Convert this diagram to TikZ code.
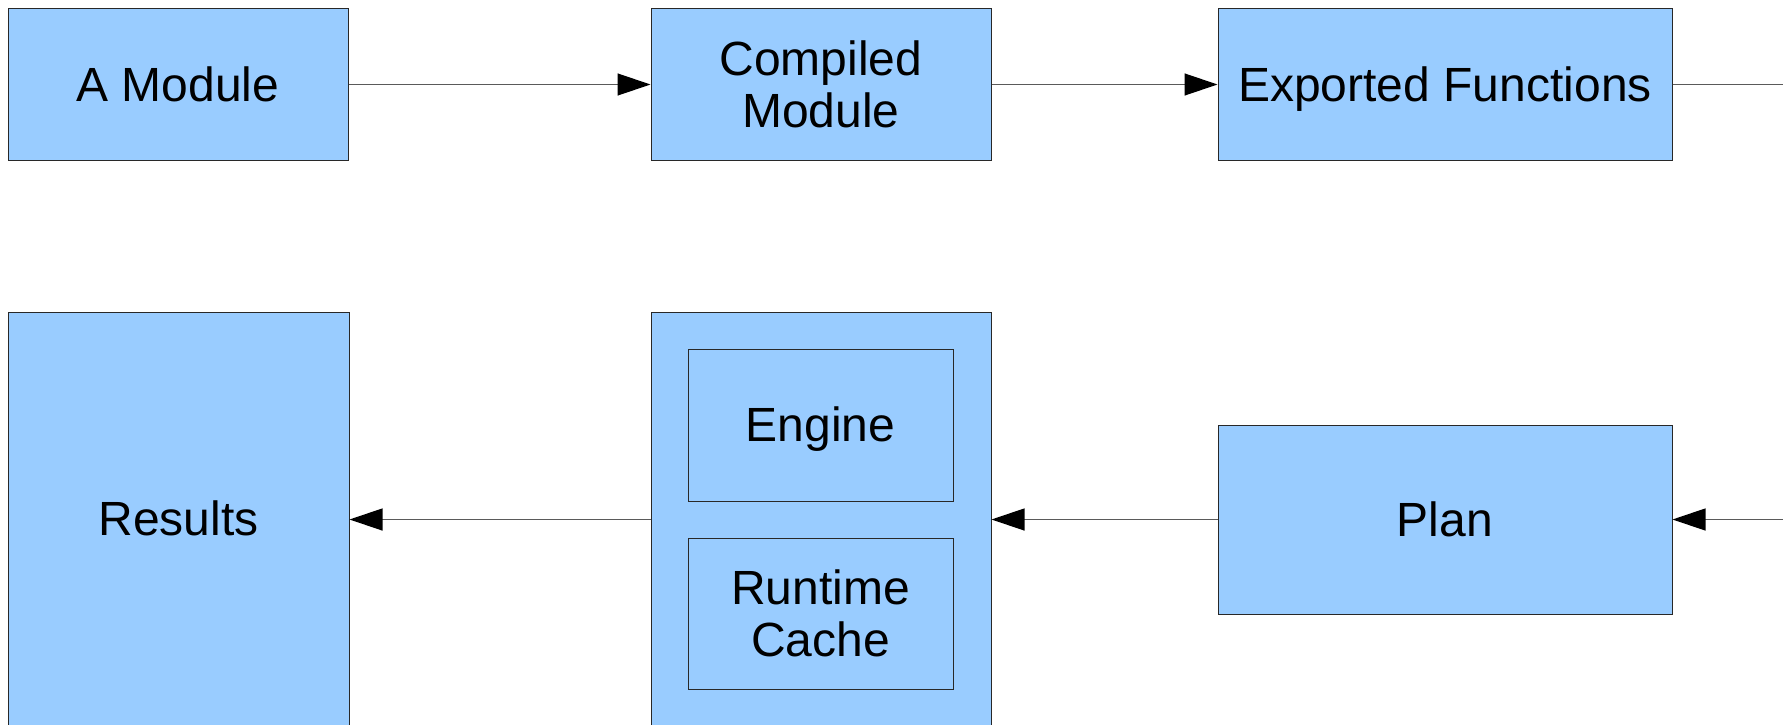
\documentclass[tikz,border=0pt]{standalone}
\usepackage{fontspec}
\setmainfont{Liberation Sans}
\usetikzlibrary{arrows.meta}
\definecolor{boxfill}{RGB}{153,204,255}
\definecolor{boxline}{RGB}{40,40,40}
\definecolor{wire}{RGB}{90,90,90}
\tikzset{
  block/.style={draw=boxline, fill=boxfill, line width=1pt, inner sep=0pt,
    align=center, font=\fontsize{48}{52}\selectfont},
  % single-line labels sit on the full line box (ascent and descent)
  oneline/.style={text height=43.4pt, text depth=10.2pt},
  flow/.style={draw=wire, line width=1.3pt,
    -{Triangle[length=33pt,width=22pt,fill=black,color=black]}},
  plainflow/.style={draw=wire, line width=1.3pt}
}
\begin{document}
\begin{tikzpicture}[x=1pt,y=-1pt]
  \useasboundingbox (0,0) rectangle (1783,725);
  \clip (0,0) rectangle (1783,725);

  % top row
  \node[block, oneline, minimum width=340pt, minimum height=151pt] (amod) at (178,84.5) {A Module};
  \node[block, minimum width=340pt, minimum height=151pt] (cmod) at (821,84.5) {Compiled\\Module};
  \node[block, oneline, minimum width=454pt, minimum height=151pt] (expf) at (1445,84.5) {Exported Functions};

  % bottom row
  \node[block, oneline, minimum width=341pt, minimum height=414pt] (res) at (178.5,519) {Results};
  \node[block, minimum width=340pt, minimum height=414pt] (rt) at (821,519) {};
  \node[block, oneline, minimum width=265pt, minimum height=152pt] (eng) at (820.5,425) {Engine};
  \node[block, minimum width=265pt, minimum height=151pt] (cache) at (820.5,613.5) {Runtime\\Cache};
  \node[block, oneline, minimum width=454pt, minimum height=189pt] (plan) at (1445,519.5) {Plan};

  % loose ends at the right border
  \coordinate (outR) at (1790,84.5);
  \coordinate (inR) at (1790,519.5);

  % connectors
  \draw[flow] (amod.east) -- (cmod.west);
  \draw[flow] (cmod.east) -- (expf.west);
  \draw[plainflow] (expf.east) -- (outR);
  \draw[flow] (inR) -- (plan.east);
  \draw[flow] (plan.west) -- (rt.east |- plan.west);
  \draw[flow] (rt.west |- plan.west) -- (res.east |- plan.west);
\end{tikzpicture}
\end{document}
